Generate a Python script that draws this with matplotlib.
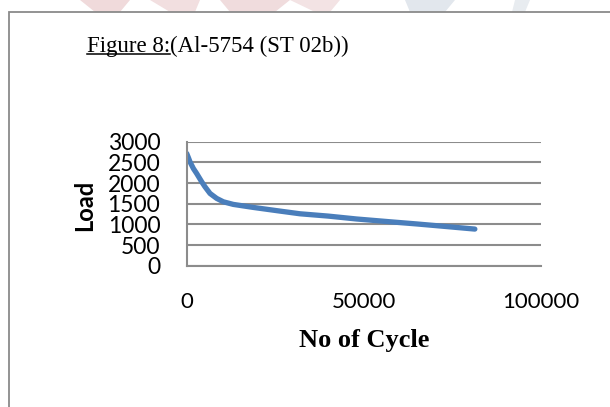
import matplotlib.pyplot as plt
from matplotlib.patches import Rectangle, Polygon

# values
cycles = [0, 500, 930, 1880, 2820, 4240, 5180, 6590, 8470, 10360, 13160,
          18800, 26360, 32000, 40000, 48000, 57400, 65000, 73000, 81400]
load = [2715, 2610, 2512, 2352, 2230, 2030, 1908, 1748, 1628, 1546, 1483,
        1410, 1321, 1256, 1200, 1130, 1063, 1010, 950, 886]

x_ticks = [0, 50000, 100000]
y_ticks = [0, 500, 1000, 1500, 2000, 2500, 3000]

W, H = 610, 407
fig = plt.figure(figsize=(W / 100, H / 100), dpi=100)

# faint scan watermark at the top edge
for xs, col in [((80, 130, 120, 95), '#f0dadb'), ((150, 200, 195, 170), '#f2dfe0'),
                ((220, 290, 275, 230), '#f0dcdd'), ((290, 340, 330, 315), '#f3e3e4'),
                ((405, 455, 445, 410), '#e2e7ed'), ((515, 530, 525, 512), '#e8ecf0')]:
    pts = [(xs[0] / W, 1), (xs[1] / W, 1), (xs[2] / W, 1 - 12 / H), (xs[3] / W, 1 - 12 / H)]
    fig.patches.append(Polygon(pts, closed=True, transform=fig.transFigure,
                               facecolor=col, edgecolor='none'))

# outer frame (runs off the right and bottom edges)
fig.patches.append(Rectangle((8.5 / W, -0.1), 1.2, 1.1 - 12.5 / H, transform=fig.transFigure,
                             fill=False, edgecolor='#8a8a8a', linewidth=1.3))

ax = fig.add_axes([186.7 / W, 1 - 265.7 / H, 354 / W, 124 / H])
ax.plot(cycles, load, color='#4a7ebb', linewidth=3.8, solid_capstyle='round')
ax.set_xlim(0, 100000)
ax.set_ylim(0, 3000)
ax.set_xticks(x_ticks)
ax.set_yticks(y_ticks)
ax.set_xticklabels([str(v) for v in x_ticks], fontname='Lato', fontsize=16)
ax.set_yticklabels([str(v) for v in y_ticks], fontname='Lato', fontsize=16.5)
ax.tick_params(length=0)
ax.tick_params(axis='y', pad=19)
ax.tick_params(axis='x', pad=19)
ax.grid(axis='y', color='#8c8c8c', linewidth=1.5)
ax.set_axisbelow(True)
for s in ['top', 'right']:
    ax.spines[s].set_visible(False)
for s in ['left', 'bottom']:
    ax.spines[s].set_color('#8c8c8c')
    ax.spines[s].set_linewidth(1.5)

fig.text(85 / W, 1 - 205 / H, 'Load', rotation=90, ha='center', va='center',
         fontname='Lato', fontweight='bold', fontsize=17)
fig.text(363.7 / W, 1 - 341 / H, 'No of Cycle', ha='center', va='center',
         fontname='Liberation Serif', fontweight='bold', fontsize=19)

# title with underlined "Figure 8:"
t1 = fig.text(86.7 / W, 1 - 51.7 / H, 'Figure 8:', ha='left', va='baseline',
              fontname='Liberation Serif', fontsize=16.5)
fig.canvas.draw()
bb = t1.get_window_extent()
fig.text(bb.x1 / W, 1 - 51.7 / H, '(Al-5754 (ST 02b))', ha='left', va='baseline',
         fontname='Liberation Serif', fontsize=16.5)
fig.add_artist(plt.Line2D([bb.x0 / W, bb.x1 / W], [1 - 54 / H, 1 - 54 / H],
                          transform=fig.transFigure, color='black', linewidth=1.1))

fig.savefig('out.png', dpi=100)
